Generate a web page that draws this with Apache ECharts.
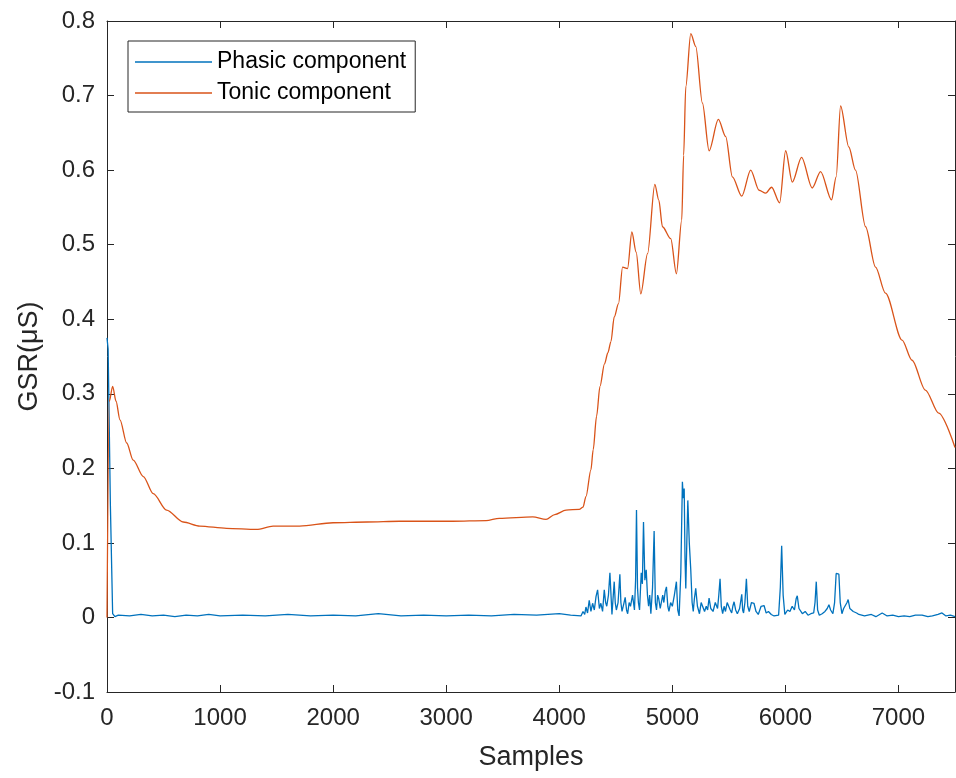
<!DOCTYPE html>
<html>
<head>
<meta charset="utf-8">
<script src="https://cdn.jsdelivr.net/npm/echarts@6/dist/echarts.min.js"></script>
<style>
  html, body { margin: 0; padding: 0; background: #fff; }
  #chart { width: 956px; height: 778px; }
</style>
</head>
<body>
<div id="chart"></div>
<script>
// tick values on the two axes
var xTicks = [0, 1000, 2000, 3000, 4000, 5000, 6000, 7000];
var yTicks = [-0.1, 0, 0.1, 0.2, 0.3, 0.4, 0.5, 0.6, 0.7, 0.8];

// phasic component (samples / value)
var phasicX = [0, 10, 30, 50, 70, 100, 200, 300, 400, 500, 600, 700, 800, 900, 1000, 1200, 1400, 1600, 1800, 2000,
    2200, 2400, 2600, 2800, 3000, 3200, 3400, 3600, 3800, 4000, 4100, 4192,
    4210, 4225, 4236, 4250, 4265, 4280, 4295, 4310, 4325, 4339, 4355, 4368, 4383, 4398, 4410, 4420, 4435, 4448,
    4466, 4486, 4495, 4505, 4520, 4536, 4545, 4555, 4570, 4583, 4595, 4605, 4618, 4630, 4648, 4665, 4675, 4683,
    4692, 4700, 4710, 4725, 4735, 4745, 4757, 4769, 4780, 4790, 4800, 4810, 4825, 4839, 4850, 4860, 4870, 4880,
    4893, 4905, 4915, 4925, 4937, 4948, 4960, 4970, 4985, 5000, 5018, 5036, 5048, 5060, 5075, 5089, 5097, 5105,
    5112, 5119, 5128, 5137, 5150, 5163, 5175, 5185, 5195, 5207, 5222, 5240, 5255, 5270, 5285, 5300, 5312, 5325,
    5340, 5360, 5380, 5400, 5411, 5422, 5433, 5445, 5458, 5470, 5485, 5500, 5512, 5525, 5535, 5546, 5560, 5575,
    5595, 5614, 5622, 5630, 5642, 5655, 5667, 5680, 5700, 5722, 5740, 5760, 5785, 5811, 5830, 5850, 5875, 5900,
    5940, 5955, 5967, 5980, 5995, 6020, 6040, 6060, 6080, 6095, 6105, 6120, 6150, 6175, 6200, 6225, 6250, 6262,
    6273, 6285, 6300, 6325, 6350, 6370, 6385, 6400, 6420, 6435, 6449, 6473, 6485, 6500, 6515, 6530, 6545, 6555,
    6570, 6600, 6630, 6650, 6700, 6760, 6800, 6856, 6900, 6950, 7000, 7050, 7100, 7150, 7209, 7260, 7300, 7350,
    7385, 7420, 7460, 7500];
var phasicY = [0.375, 0.36, 0.15, 0.005, 0.001, 0.003, 0.002, 0.004, 0.002, 0.003, 0.001, 0.003, 0.002, 0.004, 0.002, 0.003, 0.002, 0.004, 0.002, 0.003,
    0.002, 0.005, 0.002, 0.003, 0.002, 0.003, 0.002, 0.004, 0.003, 0.005, 0.003, 0.002,
    0.008, 0.004, 0.014, 0.006, 0.023, 0.008, 0.019, 0.010, 0.028, 0.037, 0.012, 0.019, 0.008, 0.037, 0.020, 0.015, 0.030, 0.060,
    0.004, 0.048, 0.020, 0.010, 0.020, 0.058, 0.020, 0.008, 0.018, 0.027, 0.010, 0.005, 0.020, 0.015, 0.030, 0.010, 0.050, 0.144,
    0.040, 0.020, 0.010, 0.060, 0.045, 0.128, 0.050, 0.064, 0.030, 0.015, 0.030, 0.005, 0.040, 0.116, 0.020, 0.010, 0.030, 0.025,
    0.012, 0.010, 0.030, 0.020, 0.035, 0.041, 0.015, 0.008, 0.020, 0.015, 0.030, 0.048, 0.010, 0.002, 0.060, 0.182, 0.160, 0.173,
    0.080, 0.039, 0.100, 0.157, 0.100, 0.064, 0.020, 0.008, 0.025, 0.039, 0.015, 0.005, 0.020, 0.018, 0.008, 0.015, 0.010, 0.026,
    0.012, 0.008, 0.020, 0.012, 0.030, 0.052, 0.015, 0.005, 0.015, 0.008, 0.020, 0.018, 0.010, 0.006, 0.015, 0.021, 0.010, 0.005,
    0.012, 0.031, 0.010, 0.006, 0.020, 0.052, 0.015, 0.008, 0.020, 0.019, 0.008, 0.004, 0.015, 0.016, 0.006, 0.008, 0.004, 0.002,
    0.003, 0.040, 0.096, 0.030, 0.004, 0.010, 0.008, 0.015, 0.010, 0.025, 0.029, 0.012, 0.005, 0.008, 0.003, 0.005, 0.006, 0.020,
    0.048, 0.010, 0.003, 0.005, 0.008, 0.012, 0.017, 0.010, 0.005, 0.020, 0.059, 0.058, 0.020, 0.005, 0.012, 0.010, 0.020, 0.024,
    0.012, 0.008, 0.006, 0.004, 0.002, 0.004, 0.001, 0.006, 0.002, 0.003, 0.001, 0.002, 0.001, 0.003, 0.003, 0.001, 0.002, 0.004,
    0.006, 0.002, 0.003, 0.001];

// tonic component (samples / value)
var tonicX = [0, 20, 50, 80, 115, 174, 232, 321, 409, 527, 674, 821, 1057, 1322, 1469, 1704, 1999, 2300, 2587, 3058,
    3353, 3470, 3765, 3883, 3960, 4060, 4177, 4210, 4236, 4280, 4300, 4330, 4360, 4400, 4430, 4457, 4486, 4524, 4560, 4604,
    4642, 4680, 4721, 4781, 4845, 4880, 4913, 4986, 5036, 5083, 5100, 5119, 5163, 5207, 5266, 5325, 5407, 5472, 5531, 5614,
    5693, 5767, 5826, 5878, 5949, 6002, 6061, 6143, 6237, 6311, 6408, 6449, 6488, 6561, 6620, 6709, 6797, 6885, 7032, 7120,
    7238, 7356, 7500];
var tonicY = [0, 0.29, 0.31, 0.29, 0.265, 0.234, 0.211, 0.189, 0.166, 0.144, 0.128, 0.1226, 0.1196, 0.118, 0.1226, 0.1226, 0.127, 0.128, 0.129, 0.129,
    0.1298, 0.133, 0.135, 0.1316, 0.138, 0.144, 0.145, 0.148, 0.162, 0.198, 0.225, 0.27, 0.31, 0.34, 0.355, 0.37, 0.403, 0.421, 0.470, 0.468,
    0.517, 0.49, 0.434, 0.488, 0.581, 0.56, 0.524, 0.508, 0.461, 0.533, 0.62, 0.712, 0.783, 0.766, 0.690, 0.626, 0.668, 0.645, 0.591, 0.565,
    0.600, 0.573, 0.569, 0.577, 0.556, 0.626, 0.584, 0.617, 0.576, 0.598, 0.560, 0.591, 0.686, 0.631, 0.600, 0.524, 0.470, 0.435, 0.372, 0.345,
    0.305, 0.274, 0.228];

function pairs(xs, ys) {
    var out = [];
    for (var i = 0; i < xs.length; i++) out.push([xs[i], ys[i]]);
    return out;
}

var axisColor = '#262626';
var font = 'Liberation Sans, Arial, Helvetica, sans-serif';

var chart = echarts.init(document.getElementById('chart'));

var option = {
    animation: false,
    backgroundColor: '#fff',
    grid: { left: 107, right: 1, top: 21, bottom: 86 },
    legend: {
        orient: 'vertical',
        left: 128,
        top: 41,
        padding: [8, 9, 6, 7],
        itemGap: 5,
        itemWidth: 77,
        itemHeight: 1.5,
        icon: 'rect',
        borderColor: axisColor,
        borderWidth: 1,
        borderRadius: 0,
        backgroundColor: '#fff',
        textStyle: { fontFamily: font, fontSize: 23, color: '#000', lineHeight: 26 },
        data: ['Phasic component', 'Tonic component']
    },
    xAxis: [{
        type: 'value',
        min: xTicks[0],
        max: 7500,
        interval: 1000,
        name: 'Samples',
        nameLocation: 'middle',
        nameGap: 52,
        nameTextStyle: { fontFamily: font, fontSize: 27, color: axisColor },
        axisLine: { onZero: false, lineStyle: { color: axisColor, width: 1 } },
        axisTick: { inside: true, length: 7, lineStyle: { color: axisColor } },
        axisLabel: { fontFamily: font, fontSize: 24, color: axisColor, margin: 14, showMaxLabel: false,
            formatter: function (v) { return String(v); } },
        splitLine: { show: false }
    }, {
        type: 'value',
        position: 'top',
        min: xTicks[0],
        max: 7500,
        interval: 1000,
        axisLine: { show: true, onZero: false, lineStyle: { color: axisColor, width: 1 } },
        axisTick: { show: true, inside: true, length: 7, lineStyle: { color: axisColor } },
        axisLabel: { show: false },
        splitLine: { show: false }
    }],
    yAxis: [{
        type: 'value',
        min: yTicks[0],
        max: yTicks[yTicks.length - 1],
        interval: 0.1,
        name: 'GSR(\u03bcS)',
        nameLocation: 'middle',
        nameGap: 64,
        nameTextStyle: { fontFamily: font, fontSize: 27, color: axisColor },
        axisLine: { show: true, onZero: false, lineStyle: { color: axisColor, width: 1 } },
        axisTick: { show: true, inside: true, length: 7, lineStyle: { color: axisColor } },
        axisLabel: { fontFamily: font, fontSize: 24, color: axisColor, margin: 12,
            formatter: function (v) { return String(Math.round(v * 10) / 10); } },
        splitLine: { show: false }
    }, {
        type: 'value',
        position: 'right',
        min: yTicks[0],
        max: yTicks[yTicks.length - 1],
        interval: 0.1,
        axisLine: { show: true, onZero: false, lineStyle: { color: axisColor, width: 1 } },
        axisTick: { show: true, inside: true, length: 7, lineStyle: { color: axisColor } },
        axisLabel: { show: false },
        splitLine: { show: false }
    }],
    series: [{
        name: 'Phasic component',
        type: 'line',
        xAxisIndex: 0,
        yAxisIndex: 0,
        symbol: 'none',
        lineStyle: { color: '#0072BD', width: 1.3 },
        itemStyle: { color: '#0072BD' },
        data: pairs(phasicX, phasicY)
    }, {
        name: 'Tonic component',
        type: 'line',
        xAxisIndex: 0,
        yAxisIndex: 0,
        symbol: 'none',
        smooth: 0.3,
        smoothMonotone: 'x',
        lineStyle: { color: '#D95319', width: 1.3 },
        itemStyle: { color: '#D95319' },
        data: pairs(tonicX, tonicY)
    }]
};

chart.setOption(option);
</script>
</body>
</html>
